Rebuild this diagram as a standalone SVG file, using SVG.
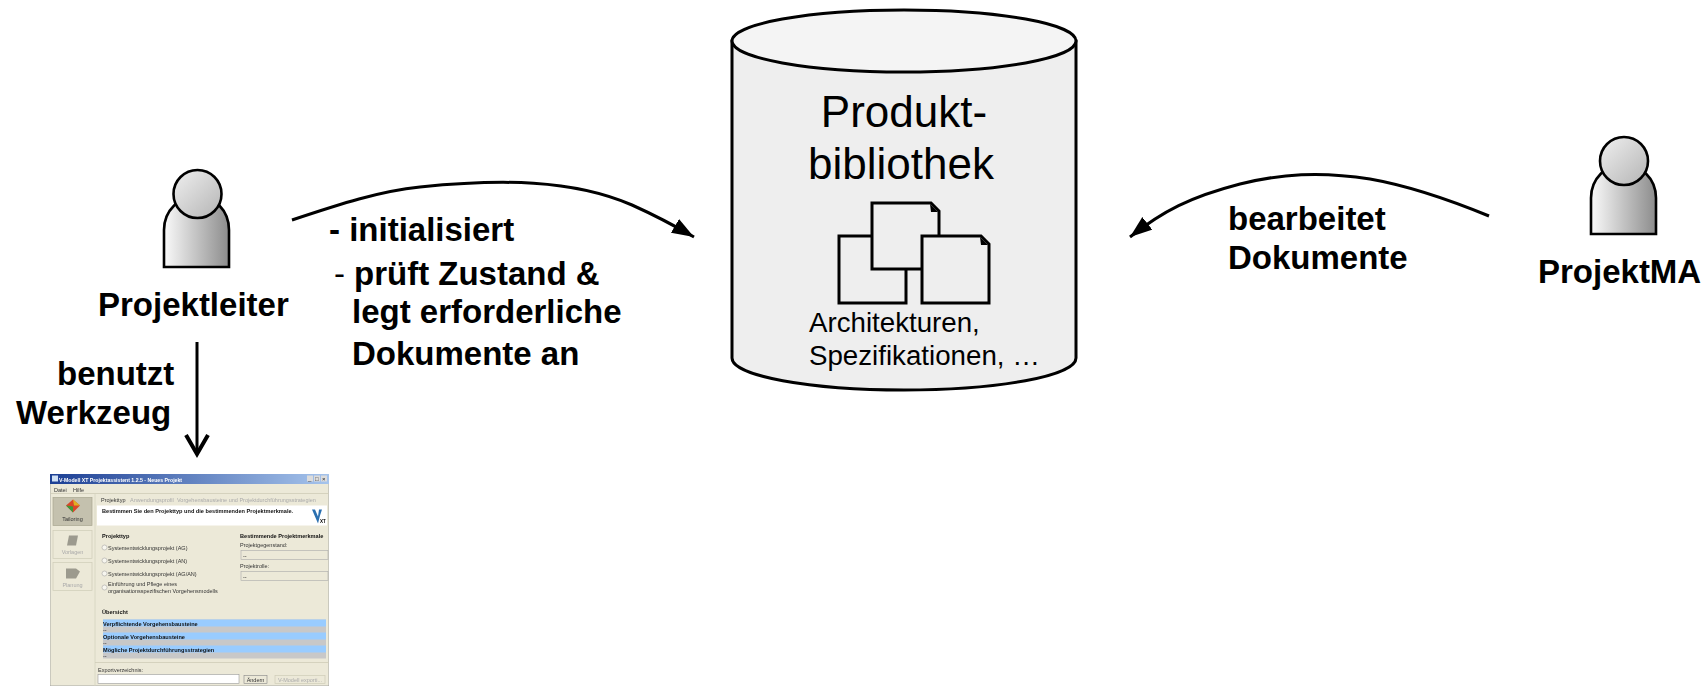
<svg xmlns="http://www.w3.org/2000/svg" width="1706" height="686" viewBox="0 0 1706 686">
<style>
text{font-family:"Liberation Sans",Arial,sans-serif;fill:#000}
.b{font-weight:700;font-size:33px}
.s{font-size:5.5px;fill:#333}
.sb{font-size:5.6px;font-weight:700;fill:#111}
.g{font-size:5.5px;fill:#aaa}
.doc{fill:#eee;stroke:#000;stroke-width:3}
.body{stroke:#000;stroke-width:2.6;fill:url(#bodyG)}
.head{stroke:#000;stroke-width:2.6;fill:url(#headG)}
.conn{fill:none;stroke:#000;stroke-width:3}
.btn{fill:#ece9d8;stroke:#cfccb8;stroke-width:.7}
.field{fill:#ece9d8;stroke:#aaa;stroke-width:.6}
</style>
<defs>
<linearGradient id="bodyG" x1="0" x2="1" y1="0" y2="0"><stop offset="0" stop-color="#fafafa"/><stop offset="1" stop-color="#8c8c8c"/></linearGradient>
<linearGradient id="headG" x1="0" x2="1" y1="0" y2="1"><stop offset="0" stop-color="#f0f0f0"/><stop offset="1" stop-color="#b4b4b4"/></linearGradient>
<linearGradient id="title" x1="0" x2="1" y1="0" y2="0"><stop offset="0" stop-color="#1c3f94"/><stop offset="1" stop-color="#a6c4ec"/></linearGradient>
<marker id="arr" markerUnits="userSpaceOnUse" markerWidth="24" markerHeight="18" refX="22" refY="8" orient="auto"><path d="M0 0L22 8L0 16Z" fill="#000"/></marker>
<filter id="soft" x="0" y="0" width="1" height="1"><feGaussianBlur stdDeviation=".45"/></filter>
</defs>

<g id="connectors">
<path class="conn" d="M292 220C340 204 380 191 420 187C500 179 572 179 632 205C652 214 670 223 694 237" marker-end="url(#arr)"/>
<path class="conn" d="M1489 216C1450 200 1410 186 1370 179C1320 171 1280 174 1240 184C1190 197 1163 211 1130 237" marker-end="url(#arr)"/>
<path class="conn" d="M197 342V454"/>
<path d="M186 435L197 454L208 435" fill="none" stroke="#000" stroke-width="4"/>
</g>

<g id="node-produktbibliothek">
<path d="M732 41V358C732 376 810 390 904 390C998 390 1076 376 1076 358V41Z" fill="#eee" stroke="#000" stroke-width="3"/>
<ellipse cx="904" cy="41" rx="172" ry="31" fill="#f4f4f4" stroke="#000" stroke-width="3"/>
<text x="904" y="127" font-size="44" text-anchor="middle">Produkt-</text>
<text x="901" y="179" font-size="44" text-anchor="middle">bibliothek</text>
<rect class="doc" x="839" y="236" width="67" height="67"/>
<path class="doc" d="M872 203H931L939 211V269H872Z"/>
<path d="M930 204L938 212L931 212Z" fill="#000"/>
<path class="doc" d="M922 236H981L989 244V303H922Z"/>
<path d="M980 237L988 245L981 245Z" fill="#000"/>
<text x="809" y="332" font-size="27.700">Architekturen,</text>
<text x="809" y="365" font-size="27.700">Spezifikationen, …</text>
</g>

<g id="node-projektleiter">
<path class="body" d="M164 267V230C164 210 180 196 197 196C214 196 229 210 229 230V267Z"/>
<circle class="head" cx="197.500" cy="194" r="24"/>
<text class="b" x="98" y="316">Projektleiter</text>
</g>

<g id="node-projektma">
<path class="body" d="M1591 234V198C1591 178 1607 164 1623 164C1640 164 1656 178 1656 198V234Z"/>
<circle class="head" cx="1624" cy="161" r="24"/>
<text class="b" x="1538" y="283">ProjektMA</text>
</g>

<g id="labels">
<text class="b" x="329" y="241">- initialisiert</text>
<text x="334" y="285" font-size="33">-</text>
<text class="b" x="354" y="285">prüft Zustand &amp;</text>
<text class="b" x="352" y="323">legt erforderliche</text>
<text class="b" x="352" y="365">Dokumente an</text>
<text class="b" x="57" y="385">benutzt</text>
<text class="b" x="16" y="424">Werkzeug</text>
<text class="b" x="1228" y="230">bearbeitet</text>
<text class="b" x="1228" y="269">Dokumente</text>
</g>

<g id="node-werkzeug" filter="url(#soft)">
<rect x="50" y="474" width="279" height="212" fill="#ece9d8" stroke="#999" stroke-width=".8"/>
<rect x="50" y="474" width="279" height="10" fill="url(#title)"/>
<g transform="translate(0 .500)">
<rect x="52" y="475" width="6" height="6" fill="#cfe0f5"/>
<text x="59" y="481" font-size="5.200" font-weight="700" style="fill:#fff">V-Modell XT Projektassistent 1.2.5 - Neues Projekt</text>
<rect x="307" y="475" width="6" height="6" fill="#dcdcdc"/><rect x="314" y="475" width="6" height="6" fill="#dcdcdc"/><rect x="321" y="475" width="6" height="6" fill="#dcdcdc"/>
<text x="308" y="480.500" font-size="6" style="fill:#222">_</text><text x="315" y="480.500" font-size="6" style="fill:#222">□</text><text x="322" y="480.500" font-size="6" style="fill:#222">×</text>
<text class="s" x="54" y="491">Datei</text><text class="s" x="73" y="491">Hilfe</text>
<line x1="50" y1="493" x2="329" y2="493" stroke="#cfccb8" stroke-width=".8"/>

<rect x="53" y="497" width="39" height="28" fill="#c4c1ae" stroke="#a9a691" stroke-width=".7"/>
<path d="M66 505L73 499L80 505L73 512Z" fill="#d9462c"/><path d="M66 505L73 512L73 506Z" fill="#3a9a3a"/><path d="M73 499L80 505L74 505Z" fill="#e0b020"/>
<text class="s" x="72.500" y="520.500" text-anchor="middle">Tailoring</text>
<rect class="btn" x="53" y="530" width="39" height="28"/>
<path d="M69 535H78L76 545H67Z" fill="#9c9a8e"/>
<text class="g" x="72.500" y="553" text-anchor="middle">Vorlagen</text>
<rect class="btn" x="53" y="562" width="39" height="28"/>
<path d="M66 568H76L80 571L76 578H66Z" fill="#9c9a8e"/>
<text class="g" x="72.500" y="586" text-anchor="middle">Planung</text>

<line x1="95" y1="493" x2="95" y2="686" stroke="#d6d3c0" stroke-width=".8"/>
<text class="s" x="101" y="501.500">Projekttyp</text>
<text class="g" x="130" y="501.500">Anwendungsprofil</text>
<text class="g" x="177" y="501.500">Vorgehensbausteine und Projektdurchführungsstrategien</text>
<rect x="97" y="505" width="230" height="20" fill="#fff"/>
<text class="sb" x="102" y="512">Bestimmen Sie den Projekttyp und die bestimmenden Projektmerkmale.</text>
<path d="M312 509L318 523L320 515L322 509L319 509L318 516L315 509Z" fill="#2a6fb0"/>
<text x="320" y="522" font-size="4.500" font-weight="700">XT</text>

<text class="sb" x="102" y="537">Projekttyp</text>
<circle cx="104.500" cy="547" r="2.500" fill="#f7f6ef" stroke="#999" stroke-width=".5"/><text class="s" x="108" y="549">Systementwicklungsprojekt (AG)</text>
<circle cx="104.500" cy="560" r="2.500" fill="#f7f6ef" stroke="#999" stroke-width=".5"/><text class="s" x="108" y="562">Systementwicklungsprojekt (AN)</text>
<circle cx="104.500" cy="573" r="2.500" fill="#f7f6ef" stroke="#999" stroke-width=".5"/><text class="s" x="108" y="575">Systementwicklungsprojekt (AG/AN)</text>
<circle cx="104.500" cy="587" r="2.500" fill="#f7f6ef" stroke="#999" stroke-width=".5"/><text class="s" x="108" y="585">Einführung und Pflege eines</text><text class="s" x="108" y="592">organisationsspezifischen Vorgehensmodells</text>

<text class="sb" x="240" y="537">Bestimmende Projektmerkmale</text>
<text class="s" x="240" y="546">Projektgegenstand:</text>
<rect class="field" x="241" y="550" width="87" height="9"/><text class="s" x="243" y="557">--</text>
<text class="s" x="240" y="567">Projektrolle:</text>
<rect class="field" x="241" y="571" width="87" height="9"/><text class="s" x="243" y="578">--</text>

<text class="sb" x="102" y="613">Übersicht</text>
<rect x="103" y="619" width="223" height="39" fill="#c8c8c8"/>
<rect x="103" y="619" width="223" height="7" fill="#99ccff"/>
<rect x="103" y="632" width="223" height="7" fill="#99ccff"/>
<rect x="103" y="645" width="223" height="7" fill="#99ccff"/>
<text class="sb" x="103" y="625">Verpflichtende Vorgehensbausteine</text><text class="s" x="103" y="631">--</text>
<text class="sb" x="103" y="638">Optionale Vorgehensbausteine</text><text class="s" x="103" y="644">--</text>
<text class="sb" x="103" y="651">Mögliche Projektdurchführungsstrategien</text><text class="s" x="103" y="657">--</text>

<line x1="95" y1="662" x2="329" y2="662" stroke="#cfccb8" stroke-width=".8"/>
<text class="s" x="98" y="671">Exportverzeichnis:</text>
<rect x="98" y="674" width="141" height="9" fill="#fff" stroke="#999" stroke-width=".6"/>
<rect x="244" y="675" width="23" height="8" fill="#ece9d8" stroke="#888" stroke-width=".6"/>
<text class="s" x="255.500" y="681.500" text-anchor="middle">Ändern</text>
<rect class="btn" x="275" y="675" width="50" height="8"/>
<text class="g" x="300" y="681.500" text-anchor="middle">V-Modell exporti...</text>
</g>
</g>
</svg>
